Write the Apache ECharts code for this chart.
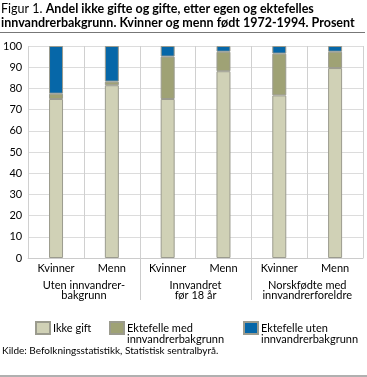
<!DOCTYPE html>
<html><head><meta charset="utf-8">
<script src="https://cdn.jsdelivr.net/npm/echarts@6/dist/echarts.min.js"></script>
<style>html,body{margin:0;padding:0;background:#fff}#c{width:367px;height:377px}</style>
</head><body><div id="c"></div>
<script>
var categories = ['Kvinner','Menn','Kvinner','Menn','Kvinner','Menn'];
var groups = ['Uten innvandrer-\nbakgrunn','Innvandret\nfør 18 år','Norskfødte med\ninnvandrerforeldre'];
var seriesNames = ['Ikke gift','Ektefelle med innvandrerbakgrunn','Ektefelle uten innvandrerbakgrunn'];
var ikkeGift = [75.0, 81.5, 75.0, 88.1, 76.7, 89.6];
var medInnv = [2.5, 1.7, 20.0, 9.2, 19.7, 7.7];
var utenInnv = [22.5, 16.8, 5.0, 2.7, 3.6, 2.7];
var yTicks = [0,10,20,30,40,50,60,70,80,90,100];

var FONT = 'Lato';
var colors = ['#d0d1b6','#9fa275','#0667a8'];
var chart = echarts.init(document.getElementById('c'), null, {renderer:'canvas'});
var legendLabel = {
  'Ikke gift':'Ikke gift',
  'Ektefelle med innvandrerbakgrunn':'Ektefelle med\ninnvandrerbakgrunn',
  'Ektefelle uten innvandrerbakgrunn':'Ektefelle uten\ninnvandrerbakgrunn'
};
function mkLegend(name, left, twoLine){
  return {
    data:[name], left:left, top:321, padding:0, itemWidth:14, itemHeight: twoLine ? 23 : 12, itemGap:0,
    icon: twoLine ? 'path://M0,0L14,0L14,12L0,12ZM0,23' : 'rect', selectedMode:false,
    formatter:function(n){return legendLabel[n];},
    textStyle:{fontFamily:FONT, fontSize:11, color:'#000', lineHeight:11, padding:[0,0,0,-2]}
  };
}
var dataArr = [ikkeGift, medInnv, utenInnv];
var option = {
  animation:false,
  grid:{left:28, right:4, top:46, bottom:119, containLabel:false},
  legend:[mkLegend(seriesNames[0],35,false), mkLegend(seriesNames[1],109,true), mkLegend(seriesNames[2],243,true)],
  xAxis:[{
    type:'category', data:categories, gridIndex:0,
    axisLine:{show:true, lineStyle:{color:'#cccccc'}},
    axisTick:{show:false},
    splitLine:{show:true, interval:0, lineStyle:{color:'#d0d0d0', width:1}},
    axisLabel:{fontFamily:FONT, fontSize:11, color:'#000', margin:5, interval:0}
  },{
    type:'category', data:groups, gridIndex:0, position:'bottom', offset:18,
    axisLine:{show:false}, axisTick:{show:false}, splitLine:{show:false},
    axisLabel:{fontFamily:FONT, fontSize:11, color:'#000', lineHeight:10.5, margin:4, interval:0}
  }],
  yAxis:{
    type:'value', min:0, max:100, interval:10,
    axisLine:{show:false}, axisTick:{show:false},
    splitLine:{show:true, lineStyle:{color:'#dcdcdc', width:1}},
    axisLabel:{fontFamily:FONT, fontSize:11, color:'#000', margin:6}
  },
  series: seriesNames.map(function(n,i){
    return {
      name:n, type:'bar', stack:'a', xAxisIndex:0, barWidth:14,
      data:dataArr[i],
      itemStyle:{color:colors[i], borderColor:'#9b9b8e', borderWidth:1}
    };
  }),
  graphic:[]
};
chart.setOption(option);

var x1 = chart.convertToPixel({xAxisIndex:0}, 1);
var x2 = chart.convertToPixel({xAxisIndex:0}, 2);
var x3 = chart.convertToPixel({xAxisIndex:0}, 3);
var x4 = chart.convertToPixel({xAxisIndex:0}, 4);
var y0 = chart.convertToPixel({yAxisIndex:0}, 0);
var sep1 = (x1+x2)/2, sep2 = (x3+x4)/2;
chart.setOption({graphic:[
  {type:'text', left:1, top:2, style:{
    rich:{r:{fontFamily:FONT, fontSize:12.5, fontWeight:'normal', fill:'#000'}, b:{fontFamily:FONT, fontSize:12.5, fontWeight:'bold', fill:'#000'}},
    text:'{r|Figur 1. }{b|Andel ikke gifte og gifte, etter egen og ektefelles}\n{b|innvandrerbakgrunn. Kvinner og menn født 1972-1994. Prosent}',
    lineHeight:14
  }},
  {type:'line', shape:{x1:0, y1:32.5, x2:365, y2:32.5}, style:{stroke:'#777', lineWidth:1}},
  {type:'line', shape:{x1:Math.round(sep1)+0.5, y1:y0, x2:Math.round(sep1)+0.5, y2:300}, style:{stroke:'#cccccc', lineWidth:1}},
  {type:'line', shape:{x1:Math.round(sep2)+0.5, y1:y0, x2:Math.round(sep2)+0.5, y2:300}, style:{stroke:'#cccccc', lineWidth:1}},
  {type:'text', left:2, top:346, style:{text:'Kilde: Befolkningsstatistikk, Statistisk sentralbyrå.', fontFamily:FONT, fontSize:10, fill:'#000'}},
  {type:'rect', shape:{x:0, y:375, width:367, height:3}, style:{fill:'#b0b0b0'}}
]});
</script>
</body></html>
